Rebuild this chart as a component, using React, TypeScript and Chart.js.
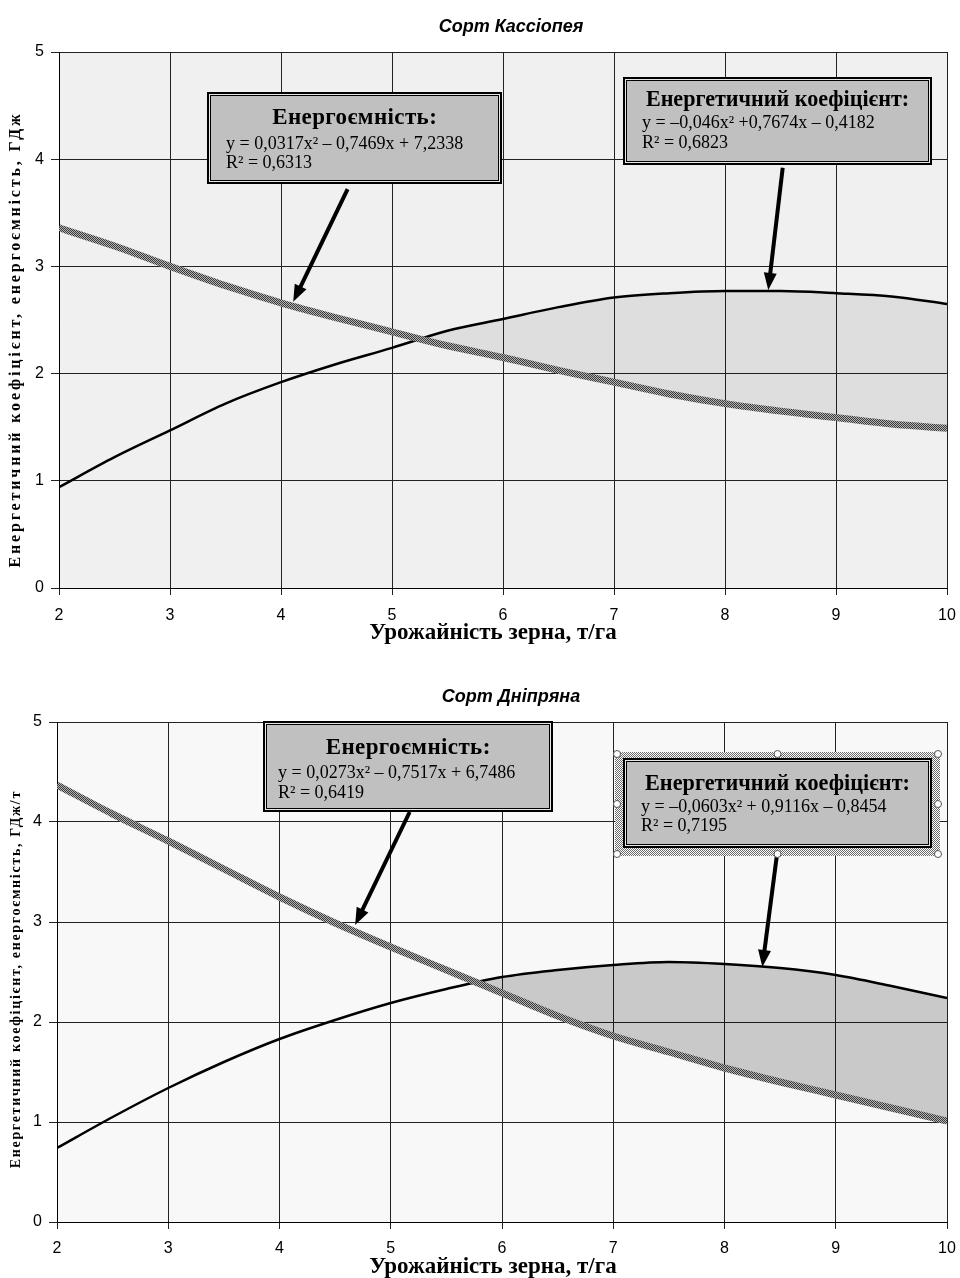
import React, { useEffect, useRef } from "react";
import { Chart, registerables } from "chart.js";

Chart.register(...registerables);

// ---------- data ----------
const yieldX = [2, 2.5, 3, 3.5, 4, 4.5, 5, 5.5, 6, 6.5, 7, 7.5, 8, 8.5, 9, 9.5, 10];
const kasEnergyCoef = [0.94, 1.22, 1.47, 1.72, 1.92, 2.09, 2.24, 2.4, 2.51, 2.62, 2.71, 2.75, 2.77, 2.77, 2.75, 2.72, 2.65];
const kasEnergyInt = [3.36, 3.19, 3.0, 2.82, 2.66, 2.52, 2.39, 2.26, 2.15, 2.03, 1.92, 1.81, 1.72, 1.65, 1.59, 1.53, 1.49];
const dniEnergyCoef = [0.74, 1.05, 1.34, 1.6, 1.83, 2.02, 2.19, 2.33, 2.45, 2.52, 2.57, 2.6, 2.58, 2.54, 2.47, 2.36, 2.24];
const dniEnergyInt = [4.37, 4.08, 3.81, 3.53, 3.25, 2.99, 2.75, 2.52, 2.29, 2.06, 1.86, 1.7, 1.54, 1.4, 1.27, 1.14, 1.01];

const kasTitle = "Сорт Кассіопея";
const dniTitle = "Сорт Дніпряна";
const xAxisTitle = "Урожайність зерна, т/га";
const kasYTitle = "Енергетичний коефіцієнт, енергоємність, ГДж";
const dniYTitle = "Енергетичний коефіцієнт, енергоємність, ГДж/т";

const intensityLabel = "Енергоємність:";
const coefLabel = "Енергетичний коефіцієнт:";
const kasIntensityEq = ["y = 0,0317x² – 0,7469x + 7,2338", "R² = 0,6313"];
const kasCoefEq = ["y = –0,046x² +0,7674x – 0,4182", "R² = 0,6823"];
const dniIntensityEq = ["y = 0,0273x² – 0,7517x + 6,7486", "R² = 0,6419"];
const dniCoefEq = ["y = –0,0603x² + 0,9116x – 0,8454", "R² = 0,7195"];

// ---------- helpers ----------
type Callout = {
  x: number; y: number; w: number; h: number;
  title: string; titleW: number; lines: string[];
  textX: number; titleY: number; lineY: number[];
  from: [number, number]; to: [number, number];
  selected?: boolean;
};

type ChartSpec = {
  title: string; titleY: number;
  yTitle: string; yTitleCy: number; yTitleLen: number; yTitleFont: number;
  xTitleY: number;
  plotBg: string; fillColor: string;
  coef: number[]; intensity: number[];
  callouts: Callout[];
  padTop: number; xAxisH: number; yAxisW: number; tickPadX: number;
};

const SERIF = '"Liberation Serif", "Times New Roman", serif';

function makeHatch(dark: string, light: string): CanvasPattern | string {
  const c = document.createElement("canvas");
  c.width = 2; c.height = 2;
  const g = c.getContext("2d");
  if (!g) return dark;
  g.fillStyle = light; g.fillRect(0, 0, 2, 2);
  g.fillStyle = dark; g.fillRect(0, 0, 1, 1); g.fillRect(1, 1, 1, 1);
  const p = g.createPattern(c, "repeat");
  return p || dark;
}

function drawSpaced(ctx: CanvasRenderingContext2D, text: string, target: number, x = 0, y = 0) {
  const anyCtx = ctx as any;
  anyCtx.letterSpacing = "0px";
  const w = ctx.measureText(text).width;
  let sp = 0;
  if (w < target && text.length > 1) {
    sp = (target - w) / text.length;
    anyCtx.letterSpacing = sp.toFixed(2) + "px";
  }
  const shift = ctx.textAlign === "center" ? sp / 2 : 0;
  ctx.fillText(text, x + shift, y);
  anyCtx.letterSpacing = "0px";
}

function drawArrow(ctx: CanvasRenderingContext2D, x1: number, y1: number, x2: number, y2: number) {
  const ang = Math.atan2(y2 - y1, x2 - x1);
  const headL = 17, headW = 6.5;
  const bx = x2 - headL * Math.cos(ang), by = y2 - headL * Math.sin(ang);
  ctx.save();
  ctx.strokeStyle = "#000"; ctx.fillStyle = "#000";
  ctx.lineWidth = 4; ctx.lineCap = "butt";
  ctx.beginPath(); ctx.moveTo(x1, y1); ctx.lineTo(bx + 2 * Math.cos(ang), by + 2 * Math.sin(ang)); ctx.stroke();
  ctx.beginPath();
  ctx.moveTo(x2, y2);
  ctx.lineTo(bx + headW * Math.sin(ang), by - headW * Math.cos(ang));
  ctx.lineTo(bx - headW * Math.sin(ang), by + headW * Math.cos(ang));
  ctx.closePath(); ctx.fill();
  ctx.restore();
}

function drawCallout(ctx: CanvasRenderingContext2D, b: Callout, hatch: CanvasPattern | string) {
  ctx.save();
  if (b.selected) {
    const fx = b.x - 8, fy = b.y - 6, fw = b.w + 16, fh = b.h + 14;
    ctx.fillStyle = hatch as any;
    ctx.fillRect(fx, fy, fw, fh);
  }
  ctx.fillStyle = "#000"; ctx.fillRect(b.x, b.y, b.w, b.h);
  ctx.fillStyle = "#e6e6e6"; ctx.fillRect(b.x + 2, b.y + 2, b.w - 4, b.h - 4);
  ctx.fillStyle = "#000"; ctx.fillRect(b.x + 3, b.y + 3, b.w - 6, b.h - 6);
  ctx.fillStyle = "#c0c0c0"; ctx.fillRect(b.x + 4, b.y + 4, b.w - 8, b.h - 8);

  ctx.fillStyle = "#000";
  ctx.textBaseline = "middle";
  ctx.textAlign = "center";
  ctx.font = `bold 22px ${SERIF}`;
  const w22 = ctx.measureText(b.title).width || 1;
  const size = Math.min(23, Math.max(20, (22 * b.titleW) / w22));
  ctx.font = `bold ${size.toFixed(1)}px ${SERIF}`;
  drawSpaced(ctx, b.title, b.titleW, b.x + b.w / 2, b.titleY);
  ctx.textAlign = "left";
  ctx.font = `18px ${SERIF}`;
  b.lines.forEach((ln, i) => ctx.fillText(ln, b.textX, b.lineY[i]));

  if (b.selected) {
    const fx = b.x - 8 + 2, fy = b.y - 6 + 2, fw = b.w + 12, fh = b.h + 10;
    const pts: [number, number][] = [
      [fx, fy], [fx + fw / 2, fy], [fx + fw, fy],
      [fx, fy + fh / 2], [fx + fw, fy + fh / 2],
      [fx, fy + fh], [fx + fw / 2, fy + fh], [fx + fw, fy + fh],
    ];
    ctx.lineWidth = 1; ctx.strokeStyle = "#555"; ctx.fillStyle = "#fff";
    pts.forEach(([px, py]) => {
      ctx.beginPath(); ctx.arc(px, py, 3.5, 0, Math.PI * 2); ctx.fill(); ctx.stroke();
    });
  }
  ctx.restore();
}

function buildChart(canvas: HTMLCanvasElement, spec: ChartSpec): Chart {
  const hatchLine = makeHatch("#3a3a3a", "#b4b4b4");
  const hatchSel = makeHatch("#6a6a6a", "#ffffff");
  const tickFont = { family: '"Liberation Sans", Arial, sans-serif', size: 16 };

  const decor = {
    id: "decor",
    beforeDraw(chart: any) {
      const { ctx, chartArea: a } = chart;
      ctx.save();
      ctx.fillStyle = spec.plotBg;
      ctx.fillRect(a.left, a.top, a.right - a.left, a.bottom - a.top);
      ctx.restore();
    },
    afterDraw(chart: any) {
      const ctx: CanvasRenderingContext2D = chart.ctx;
      const xs = chart.scales.x, ys = chart.scales.y;
      ctx.save();
      ctx.fillStyle = "#000";
      ctx.textAlign = "center";
      ctx.textBaseline = "middle";
      ctx.font = 'italic bold 18px "Liberation Sans", Arial, sans-serif';
      ctx.fillText(spec.title, 511, spec.titleY);
      ctx.font = `bold 23px ${SERIF}`;
      ctx.fillText(xAxisTitle, 493, spec.xTitleY);
      ctx.font = `bold ${spec.yTitleFont}px ${SERIF}`;
      ctx.save();
      ctx.translate(16, spec.yTitleCy);
      ctx.rotate(-Math.PI / 2);
      drawSpaced(ctx, spec.yTitle, spec.yTitleLen, 0, 0);
      ctx.restore();
      ctx.restore();

      spec.callouts.forEach((b) => {
        drawArrow(
          ctx,
          xs.getPixelForValue(b.from[0]), ys.getPixelForValue(b.from[1]),
          xs.getPixelForValue(b.to[0]), ys.getPixelForValue(b.to[1])
        );
      });
      spec.callouts.forEach((b) => drawCallout(ctx, b, hatchSel));
    },
  };

  return new Chart(canvas, {
    type: "line",
    data: {
      datasets: [
        {
          label: "Енергоємність",
          data: yieldX.map((x, i) => ({ x, y: spec.intensity[i] })),
          borderColor: hatchLine as any,
          borderWidth: 7,
          pointRadius: 0,
          cubicInterpolationMode: "monotone",
          fill: false,
        },
        {
          label: "Енергетичний коефіцієнт",
          data: yieldX.map((x, i) => ({ x, y: spec.coef[i] })),
          borderColor: "#000",
          borderWidth: 2.5,
          pointRadius: 0,
          cubicInterpolationMode: "monotone",
          fill: { target: 0, above: spec.fillColor, below: "rgba(0,0,0,0)" },
        },
      ],
    },
    options: {
      responsive: false,
      animation: false,
      devicePixelRatio: 1,
      layout: { padding: { top: spec.padTop, right: 13, left: 0, bottom: 0 } },
      plugins: {
        legend: { display: false },
        tooltip: { enabled: false },
        title: { display: false },
      },
      scales: {
        x: {
          type: "linear",
          min: 2,
          max: 10,
          ticks: { stepSize: 1, color: "#000", font: tickFont, padding: spec.tickPadX, maxRotation: 0 },
          grid: { color: "#222", lineWidth: 1, tickLength: 7, drawTicks: true },
          border: { display: true, color: "#000", width: 1 },
          afterFit: (s: any) => { s.height = spec.xAxisH; s.paddingLeft = 0; s.paddingRight = 0; },
        },
        y: {
          min: 0,
          max: 5,
          ticks: { stepSize: 1, color: "#000", font: tickFont, padding: 7 },
          grid: { color: "#222", lineWidth: 1, tickLength: 8, drawTicks: true },
          border: { display: true, color: "#000", width: 1 },
          afterFit: (s: any) => { s.width = spec.yAxisW; s.paddingTop = 0; s.paddingBottom = 0; },
        },
      },
    },
    plugins: [decor as any],
  });
}

const kasSpec: ChartSpec = {
  title: kasTitle, titleY: 27,
  yTitle: kasYTitle, yTitleCy: 341, yTitleLen: 456, yTitleFont: 16,
  xTitleY: 633,
  plotBg: "#f0f0f0", fillColor: "rgba(0,0,0,0.075)",
  coef: kasEnergyCoef, intensity: kasEnergyInt,
  padTop: 52, xAxisH: 62, yAxisW: 59, tickPadX: 11,
  callouts: [
    {
      x: 207, y: 92, w: 295, h: 92, title: intensityLabel, titleW: 165, lines: kasIntensityEq,
      textX: 226, titleY: 118, lineY: [144, 163],
      from: [4.6, 3.72], to: [4.11, 2.67],
    },
    {
      x: 623, y: 77, w: 309, h: 88, title: coefLabel, titleW: 263, lines: kasCoefEq,
      textX: 642, titleY: 100, lineY: [123, 143],
      from: [8.52, 3.92], to: [8.39, 2.78],
    },
  ],
};

const dniSpec: ChartSpec = {
  title: dniTitle, titleY: 47,
  yTitle: dniYTitle, yTitleCy: 330, yTitleLen: 378, yTitleFont: 14,
  xTitleY: 617,
  plotBg: "#f8f8f8", fillColor: "rgba(0,0,0,0.19)",
  coef: dniEnergyCoef, intensity: dniEnergyInt,
  padTop: 72, xAxisH: 56, yAxisW: 57, tickPadX: 10,
  callouts: [
    {
      x: 263, y: 71, w: 290, h: 91, title: intensityLabel, titleW: 165, lines: dniIntensityEq,
      textX: 278, titleY: 98, lineY: [123, 143],
      from: [5.17, 4.1], to: [4.68, 2.97],
    },
    {
      x: 623, y: 108, w: 309, h: 90, title: coefLabel, titleW: 265, lines: dniCoefEq,
      textX: 641, titleY: 134, lineY: [157, 176],
      from: [8.47, 3.66], to: [8.34, 2.55],
      selected: true,
    },
  ],
};

export default function App() {
  const ref1 = useRef<HTMLCanvasElement>(null);
  const ref2 = useRef<HTMLCanvasElement>(null);

  useEffect(() => {
    const charts: Chart[] = [];
    if (ref1.current) charts.push(buildChart(ref1.current, kasSpec));
    if (ref2.current) charts.push(buildChart(ref2.current, dniSpec));
    return () => charts.forEach((c) => c.destroy());
  }, []);

  return (
    <div style={{ position: "absolute", left: 0, top: 0, width: 960, height: 1278, background: "#fff" }}>
      <canvas ref={ref1} width={960} height={650} style={{ position: "absolute", left: 0, top: 0, width: 960, height: 650 }} />
      <canvas ref={ref2} width={960} height={628} style={{ position: "absolute", left: 0, top: 650, width: 960, height: 628 }} />
    </div>
  );
}
